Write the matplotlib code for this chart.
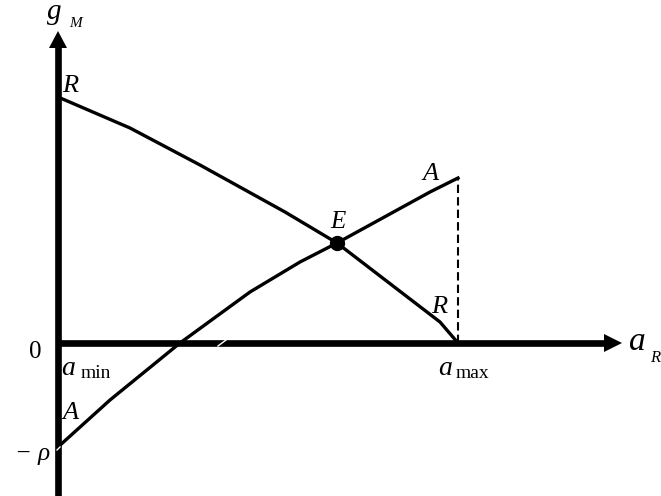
import matplotlib.pyplot as plt

# curve points (origin = intersection of axes, units ~ pixels)
r_x = [0, 72, 142, 227, 279, 382, 400]
r_y = [246, 215, 178, 131, 100, 21, 0]
a_x = [0, 52, 122, 192, 242, 279, 372, 400]
a_y = [-104, -57, 0, 51, 81, 100, 151, 165]
e_x, e_y = 279, 100
a_max = 400

plt.rcParams['font.family'] = ['Liberation Serif', 'DejaVu Serif']

fig = plt.figure(figsize=(6.61, 4.96), dpi=100)
ax = fig.add_axes([0, 0, 1, 1])
ax.set_xlim(-58, 603)
ax.set_ylim(-153, 343)
ax.axis('off')

# axes with arrow heads
ax.plot([0, 0], [-153, 296], color='black', lw=4.8, solid_capstyle='butt')
ax.plot([-2, 547], [0, 0], color='black', lw=4.8, solid_capstyle='butt')
ax.fill([-9, 9, 0], [295, 295, 312], color='black', lw=0)
ax.fill([546, 546, 564], [9, -9, 0], color='black', lw=0)

# curves
ax.plot(r_x, r_y, color='black', lw=2.4, solid_joinstyle='round')
ax.plot(a_x, a_y, color='black', lw=2.4, solid_joinstyle='round')
ax.plot([a_max, a_max], [0, a_y[-1]], color='black', lw=1.5, ls=(0, (4, 2)))
ax.plot(e_x, e_y, 'o', color='black', markersize=10)

# small white nicks seen in the original scan
ax.plot([160, 168], [-3, 3], color='white', lw=1)
ax.plot([-1, 2], [-107, -104], color='white', lw=1)

# labels
it = dict(style='italic', color='black')
ax.text(-4, 324, 'g', fontsize=21, ha='center', va='baseline', **it)
ax.text(11, 316, 'M', fontsize=11, ha='left', va='baseline', **it)
ax.text(-16, -15, '0', fontsize=18, ha='right', va='baseline')
ax.text(-8, -117, '\u2212 \u03c1', fontsize=18, ha='right', va='baseline', style='italic')
ax.text(4, 251, 'R', fontsize=19, ha='left', va='baseline', **it)
ax.text(4, -76, 'A', fontsize=19, ha='left', va='baseline', **it)
ax.text(364, 163, 'A', fontsize=19, ha='left', va='baseline', **it)
ax.text(373, 30, 'R', fontsize=19, ha='left', va='baseline', **it)
ax.text(280, 115, 'E', fontsize=18, ha='center', va='baseline', **it)
ax.text(3, -32, 'a', fontsize=20, ha='left', va='baseline', **it)
ax.text(23, -35, 'min', fontsize=14, ha='left', va='baseline')
ax.text(380, -32, 'a', fontsize=20, ha='left', va='baseline', **it)
ax.text(398, -35, 'max', fontsize=14, ha='left', va='baseline')
ax.text(571, -7, 'a', fontsize=24, ha='left', va='baseline', **it)
ax.text(592, -19, 'R', fontsize=12, ha='left', va='baseline', **it)

fig.savefig('out.png', dpi=100)
